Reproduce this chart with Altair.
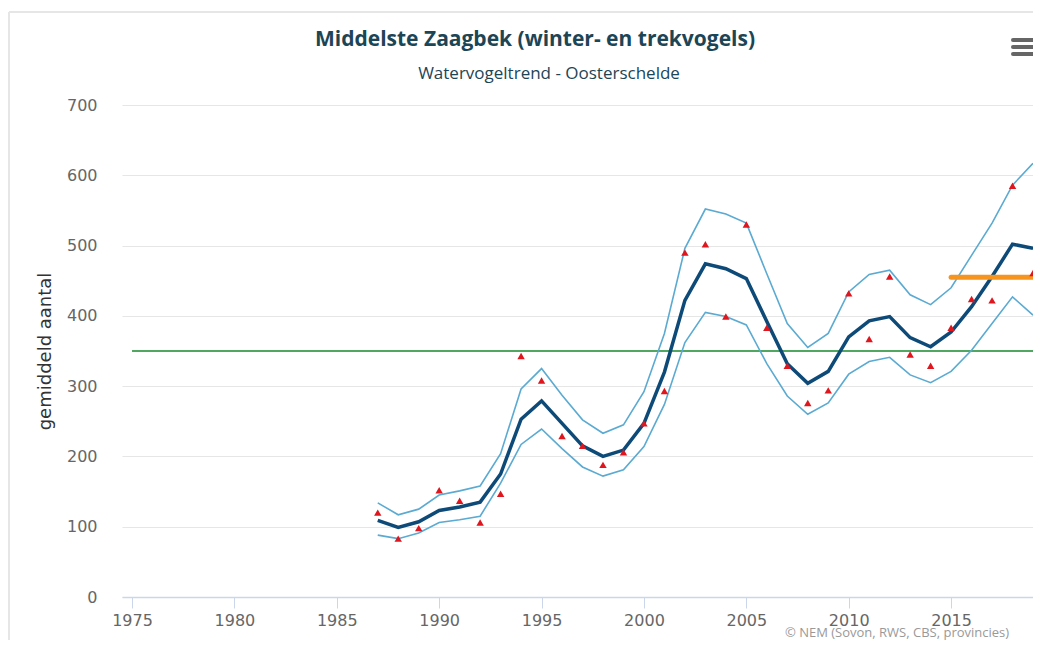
import altair as alt
import pandas as pd

years = list(range(1987, 2020))
trend = [109, 99, 107, 123, 128, 135, 175, 253, 279, 247, 215, 200, 209, 247, 320,
         422, 474, 467, 453, 392, 332, 304, 321, 370, 393, 399, 369, 356, 377, 413,
         456, 502, 496]
upper = [134, 117, 125, 145, 151, 158, 204, 296, 325, 287, 252, 233, 245, 292, 375,
         496, 552, 545, 532, 460, 389, 355, 375, 434, 459, 465, 430, 416, 440, 486,
         532, 586, 617]
lower = [88, 83, 91, 106, 110, 115, 162, 217, 239, 211, 185, 172, 181, 214, 274,
         362, 405, 399, 387, 332, 286, 260, 276, 317, 335, 341, 316, 305, 321, 351,
         389, 427, 401]
index_vals = [120, 83, 98, 152, 137, 106, 147, 343, 308, 229, 215, 188, 206, 247, 293,
              490, 502, 399, 530, 383, 329, 276, 294, 432, 367, 456, 345, 329, 383, 424,
              422, 585, 461]
reference_level = [350]
reference_years = [1975, 2019]
recent_mean = [455]
recent_years = [2015, 2019]
x_ticks = [1975, 1980, 1985, 1990, 1995, 2000, 2005, 2010, 2015]
y_ticks = [0, 100, 200, 300, 400, 500, 600, 700]

title_text = ["Middelste Zaagbek (winter- en trekvogels)"]
subtitle_text = ["Watervogeltrend - Oosterschelde"]
y_title = "gemiddeld aantal"
credits = ["© NEM (Sovon, RWS, CBS, provincies)"]

df = pd.DataFrame({"jaar": years, "trend": trend, "boven": upper,
                   "onder": lower, "index": index_vals})
ref_df = pd.DataFrame({"x1": [reference_years[0]], "x2": [reference_years[1]],
                       "y": reference_level})
rec_df = pd.DataFrame({"x1": [recent_years[0]], "x2": [recent_years[1]],
                       "y": recent_mean})

W, H = 911, 492
xscale = alt.Scale(domain=[1974.51, 2019.0], nice=False, zero=False)
yscale = alt.Scale(domain=[0, 700], nice=False)

xaxis = alt.Axis(values=x_ticks, format="d", title=None, grid=False,
                 domainColor="#ccd6eb", domainWidth=1.5, tickColor="#ccd6eb",
                 tickSize=11, labelFont="DejaVu Sans", labelFontSize=16,
                 labelColor="#666666", labelPadding=4)
yaxis = alt.Axis(values=y_ticks, title=y_title, domain=False, ticks=False,
                 gridColor="#e6e6e6", gridWidth=1.2, labelFont="DejaVu Sans",
                 labelFontSize=16, labelColor="#666666", labelPadding=25,
                 titleFont="DejaVu Sans", titleFontSize=18, titleFontWeight="normal",
                 titleColor="#333333", titlePadding=12)

base = alt.Chart(df)

grid = base.mark_line(opacity=0).encode(
    x=alt.X("jaar:Q", scale=xscale, axis=xaxis),
    y=alt.Y("trend:Q", scale=yscale, axis=yaxis),
)

def xq(field):
    return alt.X(field, scale=xscale)

def yq(field):
    return alt.Y(field, scale=yscale)

green = alt.Chart(ref_df).mark_rule(color="#148a2c", strokeWidth=1.5).encode(
    x=xq("x1:Q"), x2="x2:Q", y=yq("y:Q"))

up_line = base.mark_line(color="#5aaad2", strokeWidth=1.6).encode(
    x=xq("jaar:Q"), y=yq("boven:Q"))
lo_line = base.mark_line(color="#5aaad2", strokeWidth=1.6).encode(
    x=xq("jaar:Q"), y=yq("onder:Q"))
main_line = base.mark_line(color="#0d4a78", strokeWidth=3.5).encode(
    x=xq("jaar:Q"), y=yq("trend:Q"))

orange = alt.Chart(rec_df).mark_rule(color="#f7941d", strokeWidth=5,
                                     strokeCap="round").encode(
    x=xq("x1:Q"), x2="x2:Q", y=yq("y:Q"))

tri = base.mark_point(shape="triangle-up", filled=True, color="#e0161e",
                      size=55, opacity=1).encode(
    x=xq("jaar:Q"), y=yq("index:Q"))

title_mark = alt.Chart(pd.DataFrame({"t": title_text})).mark_text(
    align="center", baseline="middle", font="Open Sans", fontSize=21,
    fontWeight="bold", color="#1c4556").encode(
    text="t:N", x=alt.value(413), y=alt.value(-65))
subtitle_mark = alt.Chart(pd.DataFrame({"t": subtitle_text})).mark_text(
    align="center", baseline="middle", font="Open Sans", fontSize=17,
    color="#1c4556").encode(text="t:N", x=alt.value(427), y=alt.value(-31))

cred = alt.Chart(pd.DataFrame({"t": credits})).mark_text(
    align="left", baseline="alphabetic", font="Open Sans", fontSize=13,
    color="#999999").encode(text="t:N", x=alt.value(663), y=alt.value(532))

one = pd.DataFrame({"a": [0]})
# page frame and menu icon
frame_top = alt.Chart(one).mark_rule(color="#e6e6e6", strokeWidth=2).encode(
    x=alt.value(-113), x2=alt.value(W + 10), y=alt.value(-93), y2=alt.value(-93))
frame_left = alt.Chart(one).mark_rule(color="#e6e6e6", strokeWidth=2).encode(
    x=alt.value(-113), x2=alt.value(-113), y=alt.value(-93), y2=alt.value(H + 60))
menu = [
    alt.Chart(one).mark_rule(color="#666666", strokeWidth=4, strokeCap="round").encode(
        x=alt.value(891), x2=alt.value(915), y=alt.value(v), y2=alt.value(v))
    for v in (-65, -58, -51)
]

chart = alt.layer(grid, green, up_line, lo_line, main_line, orange, tri,
                  title_mark, subtitle_mark, cred,
                  frame_top, frame_left, *menu).properties(
    width=W, height=H,
    background="white",
    padding={"left": 114, "top": 97, "right": 0, "bottom": 43},
    autosize=alt.AutoSizeParams(type="none"),
).configure_view(stroke=None).configure_axisY(domain=False, ticks=False)

chart.save("out.html", embed_options={"renderer": "svg", "actions": False})
